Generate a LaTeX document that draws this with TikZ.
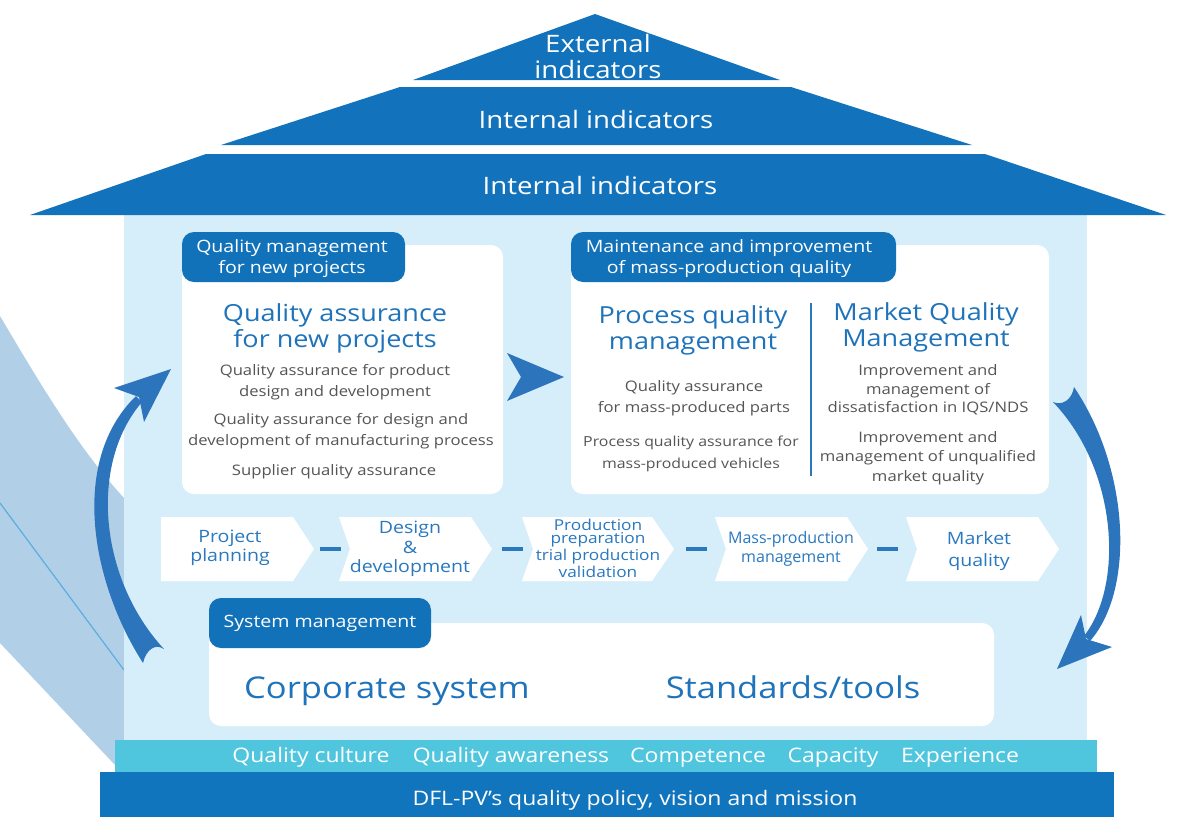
\documentclass[tikz,border=0pt]{standalone}
\usepackage{fontspec}
\setmainfont[FakeStretch=1.15]{Open Sans}
\newfontfamily\condfont[FakeStretch=1.0]{Open Sans}
\usetikzlibrary{calc}
\definecolor{roof}{HTML}{1273BC}
\definecolor{tabblue}{HTML}{1172BA}
\definecolor{bodyblue}{HTML}{D6EEF9}
\definecolor{band}{HTML}{B1CFE6}
\definecolor{bandline}{HTML}{5BAEE0}
\definecolor{cyanbar}{HTML}{4FC6DE}
\definecolor{basebar}{HTML}{1075BD}
\definecolor{arrowblue}{HTML}{2C74BB}
\definecolor{titleblue}{HTML}{1E73BA}
\definecolor{stepblue}{HTML}{2A78BE}
\definecolor{graytext}{HTML}{555555}
\newcommand\fs[2]{\fontsize{#1}{#2}\selectfont}
\begin{document}
\begin{tikzpicture}[x=1pt,y=-1pt,
  rooftext/.style={text=white,font=\fs{24}{26},align=center,inner sep=0},
  tabtext/.style={text=white,font=\fs{17}{21},align=center,inner sep=0},
  titletext/.style={text=titleblue,font=\fs{23.5}{26},align=center,inner sep=0},
  graytxt/.style={text=graytext,font=\fs{14.5}{21.5},align=center,inner sep=0},
  steptext/.style={text=stepblue,font=\fs{17}{19.5},align=center,inner sep=0},
  bigtext/.style={text=titleblue,font=\fs{30}{32},inner sep=0,anchor=base},
  bartext/.style={text=white,font=\fs{20}{24},inner sep=0,anchor=base},
  stepbox/.style={fill=white},
  whitebox/.style={fill=white,rounded corners=12},
  tabbox/.style={fill=tabblue,rounded corners=12},
  dashline/.style={draw=stepblue,line width=4},
  bigarrow/.style={fill=arrowblue}
]
\useasboundingbox (0,0) rectangle (1177,817);
% left decorative band
\fill[band] (0,316) .. controls (45,392) and (80,450) .. (124,498) -- (160,498) -- (160,765) -- (115,765) -- (0,643) -- cycle;
\draw[bandline,line width=1.2] (0,503) -- (124,670);
% body
\fill[bodyblue] (124,215) rectangle (1087,740);
% roof
\fill[roof] (595,14) -- (780,80) -- (413,80) -- cycle;
\fill[roof] (400,87) -- (791,87) -- (972,145) -- (221,145) -- cycle;
\fill[roof] (206,154) -- (985,154) -- (1166,215) -- (30,215) -- cycle;
\node[rooftext] (ext) at (598,56) {External\\indicators};
\node[rooftext] (int1) at (596,119) {Internal indicators};
\node[rooftext] (int2) at (600,185) {Internal indicators};
% bars
\fill[cyanbar] (115,740) rectangle (1097,772);
\fill[basebar] (100,772) rectangle (1114,817);
\node[bartext] (q1) at (311,762) {Quality culture};
\node[bartext] (q2) at (511,762) {Quality awareness};
\node[bartext] (q3) at (698,762) {Competence};
\node[bartext] (q4) at (833,762) {Capacity};
\node[bartext] (q5) at (960,762) {Experience};
\node[bartext] (policy) at (635,805) {DFL-PV’s quality policy, vision and mission};
% box 1
\fill[whitebox] (182,245) rectangle (503,494);
\fill[tabbox] (182,232) rectangle (405,282);
\node[tabtext] (tab1) at (292,259) {Quality management\\for new projects};
\node[titletext] (t1) at (335,328) {Quality assurance\\for new projects};
\node[graytxt] (g1a) at (335,382) {Quality assurance for product\\design and development};
\node[graytxt] (g1b) at (341,431) {Quality assurance for design and\\development of manufacturing process};
\node[graytxt] (g1c) at (334,472) {Supplier quality assurance};
% box 2
\fill[whitebox] (571,245) rectangle (1049,494);
\fill[tabbox] (571,232) rectangle (896,282);
\node[tabtext] (tab2) at (729,259) {Maintenance and improvement\\of mass-production quality};
\node[titletext] (t2a) at (693,330) {Process quality\\management};
\node[titletext] (t2b) at (926,327) {Market Quality\\Management};
\draw[stepblue,line width=2] (811,303) -- (811,476);
\node[graytxt] (g2a) at (694,398) {Quality assurance\\for mass-produced parts};
\node[graytxt,font=\fs{13.8}{21.5}] (g2b) at (691,454) {Process quality assurance for\\mass-produced vehicles};
\node[graytxt,font=\fs{14.5}{18.5}] (g2c) at (928,390) {Improvement and\\management of\\dissatisfaction in IQS/NDS};
\node[graytxt,font=\fs{14.5}{19.5}] (g2d) at (928,458) {Improvement and\\management of unqualified\\market quality};
% arrow between boxes
\fill[arrowblue] (507,353) -- (564,377) -- (507,401) -- (521,377) -- cycle;
% chevrons
\fill[stepbox] (161,517) -- (293,517) -- (314,549) -- (293,581) -- (161,581) -- cycle;
\fill[stepbox] (339,517) -- (471,517) -- (492,549) -- (471,581) -- (339,581) -- (350,549) -- cycle;
\fill[stepbox] (522,517) -- (652,517) -- (674,549) -- (652,581) -- (522,581) -- (533,549) -- cycle;
\fill[stepbox] (715,517) -- (847,517) -- (868,549) -- (847,581) -- (715,581) -- (726,549) -- cycle;
\fill[stepbox] (906,517) -- (1038,517) -- (1059,549) -- (1038,581) -- (906,581) -- (917,549) -- cycle;
\node[steptext] (s1) at (230,548) {Project\\planning};
\node[steptext] (s2) at (410,549) {Design\\\&\\development};
\node[steptext,font=\fs{15}{17}] (s3) at (598,548) {Production\\[-4pt]preparation\\trial production\\validation};
\node[steptext,font=\condfont\fs{16}{18.5}] (s4) at (791,549) {Mass-production\\management};
\node[steptext,font=\fs{17}{22}] (s5) at (979,551) {Market\\quality};
\draw[dashline] (320,549) -- (341,549);
\draw[dashline] (502,549) -- (523,549);
\draw[dashline] (686,549) -- (707,549);
\draw[dashline] (877,549) -- (898,549);
% system box
\fill[whitebox] (209,623) rectangle (994,726);
\fill[tabbox] (209,598) rectangle (431,648);
\node[tabtext] (tab3) at (320,623) {System management};
\node[bigtext] (corp) at (387,698) {Corporate system};
\node[bigtext] (std) at (793,698) {Standards/tools};
% left curved arrow (system -> new projects)
\coordinate (lhead) at (171,369);
\coordinate (ltail) at (153,656);
\fill[bigarrow] (143,663) .. controls (90,580) and (70,460) .. (136,396)
  -- (142,402) .. controls (88,465) and (100,580) .. (164,649)
  .. controls (155,643) and (146,650) .. cycle;
\fill[bigarrow] (lhead) -- (114,388) -- (139,397) -- (144,422) -- cycle;
% right curved arrow (mass production -> system)
\coordinate (rhead) at (1057,669);
\coordinate (rtail) at (1063,395);
\fill[bigarrow] (1074,387) .. controls (1130,470) and (1135,590) .. (1090,641)
  -- (1084,636) .. controls (1124,585) and (1118,470) .. (1053,402)
  .. controls (1062,406) and (1072,400) .. cycle;
\fill[bigarrow] (rhead) -- (1081,615) -- (1086,639) -- (1112,647) -- cycle;
\end{tikzpicture}
\end{document}
